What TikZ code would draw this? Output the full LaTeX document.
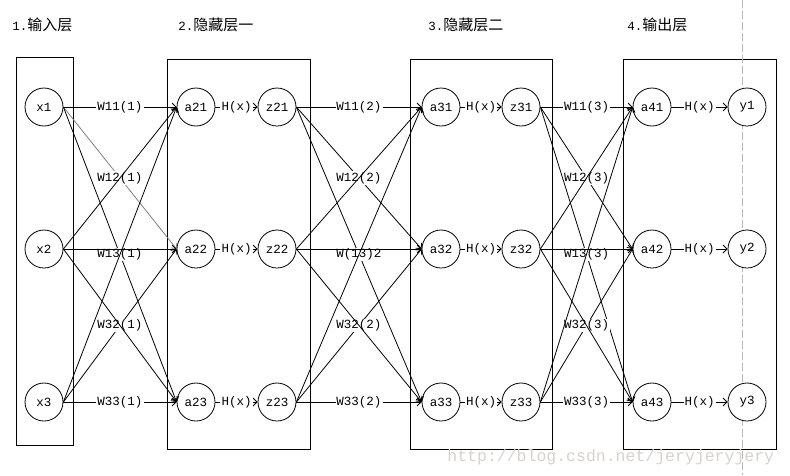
\documentclass[tikz,border=0pt]{standalone}
\usepackage{fontspec}
\usetikzlibrary{arrows.meta}
\setmainfont{Liberation Mono}
\newfontfamily\cjk{Noto Sans CJK SC}
\definecolor{markgray}{RGB}{214,210,206}

\begin{document}
\begin{tikzpicture}[x=1pt, y=-1pt, line width=0.8pt, >={Straight Barb[length=4pt, width=8pt]},
		neuron/.style={draw, circle, fill=white, minimum size=38pt, inner sep=0pt, font=\fontsize{12.5}{14}\selectfont},
		wlabel/.style={fill=white, text=black, inner sep=1pt, font=\fontsize{12.5}{14}\selectfont},
		title/.style={anchor=west, inner sep=0pt, font=\fontsize{12.5}{14}\selectfont},
		link/.style={->}]
			\useasboundingbox (0, 0) rectangle (790, 475);
			
			% layer titles
			\node[title] (t1) at (12, 25) {1.{\cjk\fontsize{15}{16}\selectfont 输入层}};
			\node[title] (t2) at (178, 25) {2.{\cjk\fontsize{15}{16}\selectfont 隐藏层一}};
			\node[title] (t3) at (428, 25) {3.{\cjk\fontsize{15}{16}\selectfont 隐藏层二}};
			\node[title] (t4) at (627, 25) {4.{\cjk\fontsize{15}{16}\selectfont 输出层}};
			
			% layer boxes
			\draw (16, 57) rectangle (73, 445);
			\draw (167, 59) rectangle (310, 449);
			\draw (410, 59) rectangle (552, 449);
			\draw (623, 59) rectangle (776, 449);
			
			\draw[gray!55, line width=0.6pt, dash pattern=on 8pt off 3pt] (742, 0) -- (742, 475);
			
			% neurons
			\foreach \j/\y in {1/107, 2/249, 3/402} {
				\node[neuron] (x\j) at (44, \y) {x\j};
				\node[neuron] (a2\j) at (196, \y) {a2\j};
				\node[neuron] (z2\j) at (277, \y) {z2\j};
				\node[neuron] (a3\j) at (441, \y) {a3\j};
				\node[neuron] (z3\j) at (521, \y) {z3\j};
				\node[neuron] (a4\j) at (652, \y) {a4\j};
				\node[neuron] (y\j) at (747, \y) {y\j};
			}
			
			% weights with labels
			\draw[link, gray] (x1.east) -- node[wlabel] {W12(1)} (a22.west);
			\foreach \s/\t/\i/\j/\w in {x/a2/1/1/W11(1), x/a2/1/3/W13(1), x/a2/3/2/W32(1), x/a2/3/3/W33(1),
					z2/a3/1/1/W11(2), z2/a3/1/2/W12(2), z2/a3/1/3/W(13)2, z2/a3/3/2/W32(2), z2/a3/3/3/W33(2),
					z3/a4/1/1/W11(3), z3/a4/1/2/W12(3), z3/a4/1/3/W13(3), z3/a4/3/2/W32(3), z3/a4/3/3/W33(3)}
				\draw[link] (\s\i.east) -- node[wlabel] {\w} (\t\j.west);
			
			% remaining weights
			\foreach \s/\t in {x/a2, z2/a3, z3/a4}
				\foreach \i/\j in {2/1, 2/2, 2/3, 3/1}
					\draw[link] (\s\i.east) -- (\t\j.west);
			
			% activations
			\foreach \j in {1, 2, 3} {
				\draw[link] (a2\j) -- node[wlabel] {H(x)} (z2\j);
				\draw[link] (a3\j) -- node[wlabel] {H(x)} (z3\j);
				\draw[link] (a4\j) -- node[wlabel] {H(x)} (y\j);
			}
			
			\node[anchor=west, inner sep=0pt, markgray, font=\fontsize{16.5}{18}\selectfont] (mark) at (447, 457) {http://blog.csdn.net/jeryjeryjery};
		\end{tikzpicture}
\end{document}
